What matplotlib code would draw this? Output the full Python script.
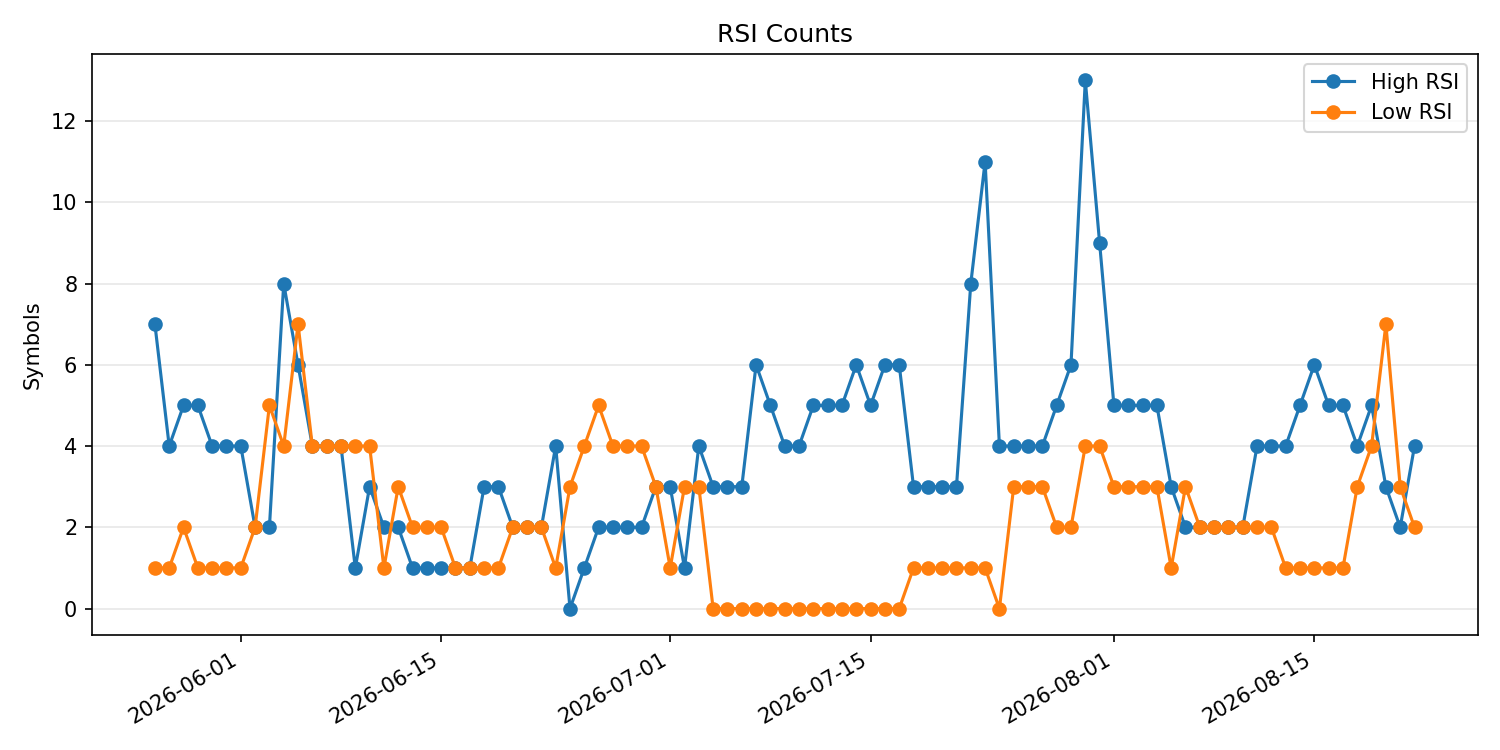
import numpy as np
import pandas as pd
import matplotlib
matplotlib.use("Agg")
import matplotlib.pyplot as plt

# daily counts, 2026-05-26 .. 2026-08-22
dates = pd.date_range("2026-05-26", "2026-08-22", freq="D")

high_rsi = [7, 4, 5, 5, 4, 4, 4, 2, 2, 8, 6, 4, 4, 4, 1, 3, 2, 2, 1, 1,
            1, 1, 1, 3, 3, 2, 2, 2, 4, 0, 1, 2, 2, 2, 2, 3, 3, 1, 4, 3,
            3, 3, 6, 5, 4, 4, 5, 5, 5, 6, 5, 6, 6, 3, 3, 3, 3, 8, 11, 4,
            4, 4, 4, 5, 6, 13, 9, 5, 5, 5, 5, 3, 2, 2, 2, 2, 2, 4, 4, 4,
            5, 6, 5, 5, 4, 5, 3, 2, 4]

low_rsi = [1, 1, 2, 1, 1, 1, 1, 2, 5, 4, 7, 4, 4, 4, 4, 4, 1, 3, 2, 2,
           2, 1, 1, 1, 1, 2, 2, 2, 1, 3, 4, 5, 4, 4, 4, 3, 1, 3, 3, 0,
           0, 0, 0, 0, 0, 0, 0, 0, 0, 0, 0, 0, 0, 1, 1, 1, 1, 1, 1, 0,
           3, 3, 3, 2, 2, 4, 4, 3, 3, 3, 3, 1, 3, 2, 2, 2, 2, 2, 2, 1,
           1, 1, 1, 1, 3, 4, 7, 3, 2]

fig, ax = plt.subplots(figsize=(10, 5), dpi=150)
ax.plot(dates, high_rsi, marker="o", label="High RSI")
ax.plot(dates, low_rsi, marker="o", label="Low RSI")
ax.set_title("RSI Counts")
ax.set_ylabel("Symbols")
ax.grid(axis="y", alpha=0.3)
ax.legend()
fig.autofmt_xdate()
plt.tight_layout()
plt.savefig("out.png")
